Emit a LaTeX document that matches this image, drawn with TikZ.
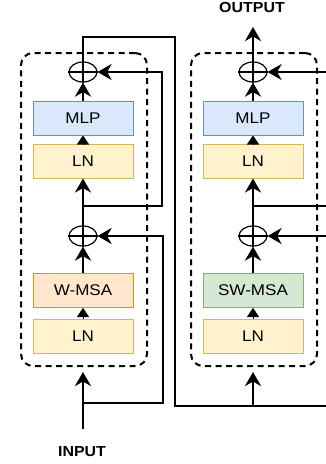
\documentclass[tikz,border=0pt]{standalone}
\usepackage{fontspec}
\setmainfont{Liberation Sans}[FakeStretch=1.1]
\usetikzlibrary{arrows.meta,shapes.geometric}
\definecolor{mlpfill}{HTML}{DAE8FC}\definecolor{mlpdraw}{HTML}{6C8EBF}
\definecolor{lnfill}{HTML}{FFF2CC}\definecolor{lndraw}{HTML}{D6B656}
\definecolor{wfill}{HTML}{FFE6CC}\definecolor{wdraw}{HTML}{D79B00}
\definecolor{swfill}{HTML}{D5E8D4}\definecolor{swdraw}{HTML}{82B366}
\begin{document}
\begin{tikzpicture}[x=1pt,y=-1pt,
  blk/.style={draw, line width=1pt, minimum width=100pt, minimum height=34pt, inner sep=0pt,
    font=\fontsize{15.5}{15.5}\selectfont},
  mlpbox/.style={blk, fill=mlpfill, draw=mlpdraw},
  lnbox/.style={blk, fill=lnfill, draw=lndraw},
  wbox/.style={blk, fill=wfill, draw=wdraw},
  swbox/.style={blk, fill=swfill, draw=swdraw},
  oplus/.style={ellipse, draw, line width=1.2pt, minimum width=28pt, minimum height=20pt, inner sep=0pt},
  group/.style={draw, dash pattern=on 6pt off 4.5pt, line width=2pt, rounded corners=12pt,
    minimum width=126pt, minimum height=313pt, inner sep=0pt},
  line/.style={line width=2.2pt},
  arr/.style={line width=2.2pt, -{Stealth[length=14pt,width=16pt,inset=4.5pt]}},
  tri/.style={line width=0.1pt, -{Triangle[length=9pt,width=12pt]}},
  lbl/.style={font=\fontsize{14.5}{14.5}\selectfont\bfseries}
]
\useasboundingbox (0,0) rectangle (326,464);

% groups
\node[group] (ga) at (84,209.5) {};
\node[group] (gb) at (254,209.5) {};

% block A
\node[oplus] (o1a) at (83,72) {};
\node[mlpbox] (mlpa) at (83,118) {MLP};
\node[lnbox] (lnta) at (83,161) {LN};
\node[oplus] (o2a) at (83,236) {};
\node[wbox] (wa) at (83,290.5) {W-MSA};
\node[lnbox] (lnba) at (83,336.5) {LN};

% block B
\node[oplus] (o1b) at (253,72) {};
\node[mlpbox] (mlpb) at (253,118) {MLP};
\node[lnbox] (lntb) at (253,161) {LN};
\node[oplus] (o2b) at (253,236) {};
\node[swbox] (wb) at (253,290.5) {SW-MSA};
\node[lnbox] (lnbb) at (253,336.5) {LN};

% oplus crosses
\foreach \n in {o1a,o2a,o1b,o2b}{
  \draw[line width=1.2pt] (\n.north) -- (\n.south) (\n.west) -- (\n.east);
}

% labels
\node[lbl] (input) at (82,452) {INPUT};
\node[lbl] (output) at (252,8) {OUTPUT};

% coordinates
\coordinate (ina) at (83,429);
\coordinate (tipa) at (83,372);
\coordinate (ba) at (83,403);
\coordinate (ca) at (163,236);
\coordinate (da) at (83,206);
\coordinate (ea) at (162,72);
\coordinate (fa) at (175,37);
\coordinate (gbr) at (326,406);
\coordinate (hb) at (253,406);
\coordinate (tipb) at (253,372);
\coordinate (rb1) at (326,236);
\coordinate (db) at (253,206);
\coordinate (rdb) at (326,206);
\coordinate (rb2) at (326,72);
\coordinate (outtip) at (253,27);

% block A connectors
\draw[arr] (ina) -- (tipa);
\draw[tri] (lnba.north) -- (wa.south);
\draw[arr] (wa.north) -- (o2a.south);
\draw[arr] (o2a.north) -- (lnta.south);
\draw[tri] (lnta.north) -- (mlpa.south);
\draw[arr] (mlpa.north) -- (o1a.south);
\draw[arr] (ba) -| (ca) -- (o2a.east);
\draw[arr] (da) -| (ea) -- (o1a.east);
\draw[line] (o1a.north) |- (fa) |- (gbr);

% block B connectors
\draw[arr] (hb) -- (tipb);
\draw[tri] (lnbb.north) -- (wb.south);
\draw[arr] (wb.north) -- (o2b.south);
\draw[arr] (o2b.north) -- (lntb.south);
\draw[tri] (lntb.north) -- (mlpb.south);
\draw[arr] (mlpb.north) -- (o1b.south);
\draw[arr] (rb1) -- (o2b.east);
\draw[line] (db) -- (rdb);
\draw[arr] (rb2) -- (o1b.east);
\draw[arr] (o1b.north) -- (outtip);
\end{tikzpicture}
\end{document}
